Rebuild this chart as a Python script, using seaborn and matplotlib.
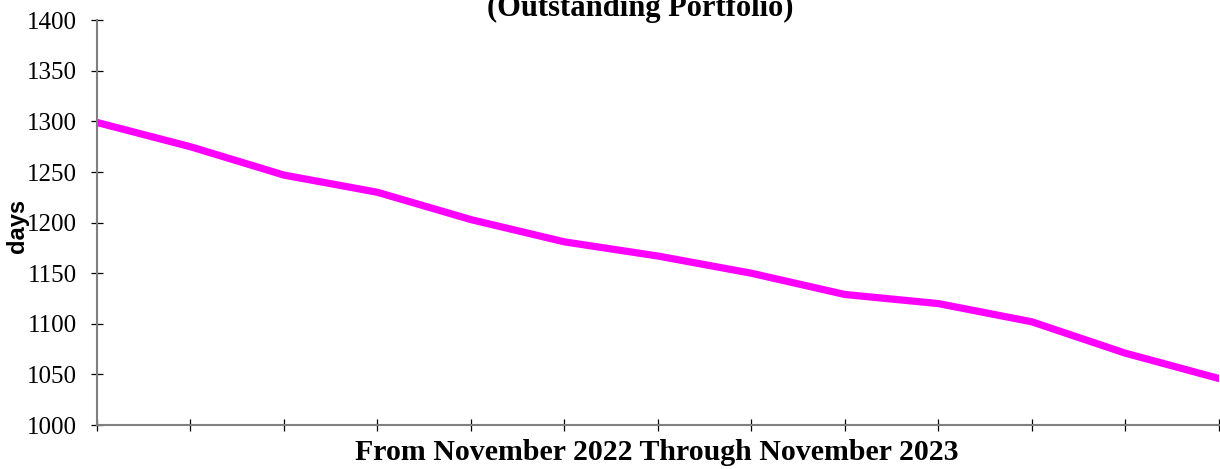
import pandas as pd
import numpy as np
import matplotlib.pyplot as plt
import seaborn as sns

# Данные: средний срок (дни), ноябрь 2022 - ноябрь 2023
months = ['Nov 2022', 'Dec 2022', 'Jan 2023', 'Feb 2023', 'Mar 2023', 'Apr 2023',
          'May 2023', 'Jun 2023', 'Jul 2023', 'Aug 2023', 'Sep 2023', 'Oct 2023', 'Nov 2023']
days = [1299, 1275, 1247, 1230, 1203, 1181, 1167, 1150, 1129, 1120, 1102, 1071, 1046]

df = pd.DataFrame({'month': months, 'days': days})
df['pos'] = np.arange(len(df))

sns.set_style('white')
plt.rcParams['font.family'] = ['Liberation Serif', 'DejaVu Serif']

fig = plt.figure(figsize=(12.2, 4.69), dpi=100)
ax = fig.add_axes([0.0795, 0.0938, 0.9195, 0.863])

sns.lineplot(data=df, x='pos', y='days', color='#FF00FF', linewidth=5.2, ax=ax)

ax.set_xlim(0, len(months) - 1)
ax.set_ylim(1000, 1400)
ax.set_yticks(np.arange(1000, 1401, 50))
ax.set_xticks(df['pos'])
ax.set_xticklabels([])
ax.tick_params(axis='both', direction='inout', length=9, width=0.9, color='black',
               bottom=True, left=True, labelcolor='black')
ax.tick_params(axis='y', labelsize=18, pad=10)

for side in ['top', 'right']:
    ax.spines[side].set_visible(False)
for side in ['left', 'bottom']:
    ax.spines[side].set_color('#808080')
    ax.spines[side].set_linewidth(1.5)

ax.set_xlabel('')
ax.set_ylabel('')

fig.text(0.014, 0.518, 'days', rotation=90, ha='center', va='center', color='black',
         fontsize=17, fontweight='bold', family=['Liberation Sans', 'DejaVu Sans'])
fig.text(0.538, 0.036, 'From November 2022 Through November 2023', ha='center', va='center',
         fontsize=21.5, fontweight='bold', color='black')
fig.text(0.525, 0.982, '(Outstanding Portfolio)', ha='center', va='center',
         fontsize=22, fontweight='bold', color='black')

fig.savefig('out.png', dpi=100)
